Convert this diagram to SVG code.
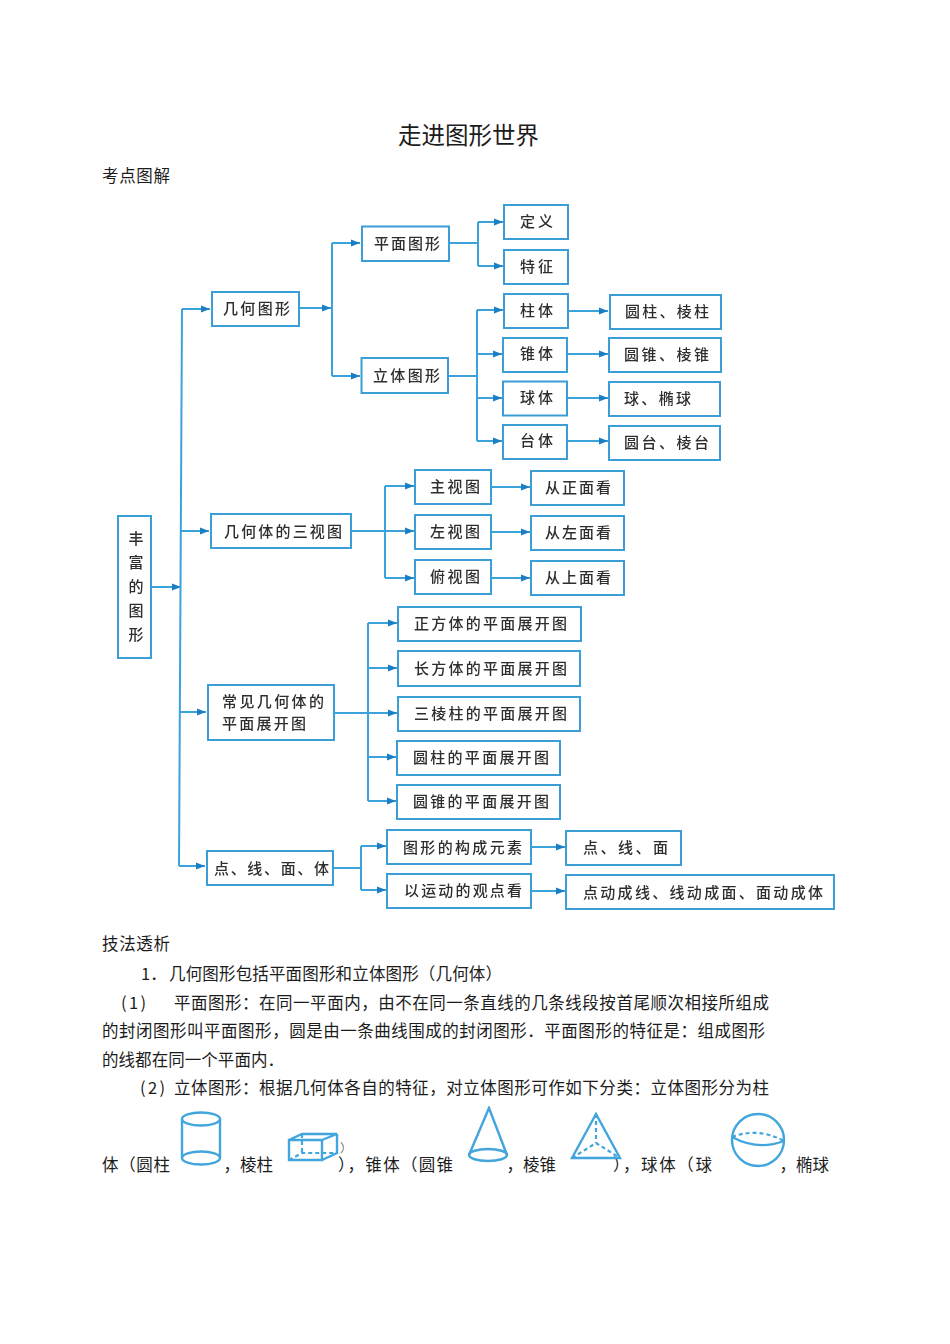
<svg xmlns="http://www.w3.org/2000/svg" width="950" height="1344" viewBox="0 0 950 1344">
<style>
text{font-family:"Noto Sans CJK SC","Noto Sans",sans-serif;fill:#1c1c1c}
.b{font-size:16.5px}
.l{font-size:15px;fill:#2e2e2e;font-weight:500}
.n{fill:#fff;stroke:#3b9fd6;stroke-width:2}
.c{fill:none;stroke:#3ba3dc;stroke-width:2}
.s{fill:none;stroke:#42a5de;stroke-width:2.400}
.d{fill:none;stroke:#42a5de;stroke-width:2.200;stroke-dasharray:4 3}
</style>
<defs>
<marker id="a" markerUnits="userSpaceOnUse" markerWidth="10" markerHeight="9" refX="9" refY="4.500" orient="auto"><path d="M0 1L9 4.500L0 8z" fill="#1b7fc4"/></marker>
<filter id="soft" x="-2%" y="-2%" width="104%" height="104%"><feGaussianBlur stdDeviation="0.55"/></filter>
</defs>
<rect width="950" height="1344" fill="#fff"/>
<g id="page-text">
<text x="398" y="144" font-size="23.5" textLength="141">走进图形世界</text>
<text class="b" x="102" y="182" textLength="68">考点图解</text>
<text class="b" x="102" y="950" textLength="68">技法透析</text>
<text class="b" x="141" y="979.500">1．</text>
<text class="b" x="169" y="979.500" textLength="333">几何图形包括平面图形和立体图形（几何体）</text>
<text class="b" x="121" y="1008.500" textLength="25">(1)</text>
<text class="b" x="174" y="1008.500" textLength="595">平面图形：在同一平面内，由不在同一条直线的几条线段按首尾顺次相接所组成</text>
<text class="b" x="102" y="1036.500" textLength="663">的封闭图形叫平面图形，圆是由一条曲线围成的封闭图形．平面图形的特征是：组成图形</text>
<text class="b" x="102" y="1065.500" textLength="182">的线都在同一个平面内．</text>
<text class="b" x="140" y="1093.500" textLength="25">(2)</text>
<text class="b" x="174" y="1093.500" textLength="595">立体图形：根据几何体各自的特征，对立体图形可作如下分类：立体图形分为柱</text>
<text class="b" x="102" y="1171" textLength="68">体（圆柱</text>
<text class="b" x="223.500" y="1171">，棱柱</text>
<text class="b" x="338" y="1171" textLength="115">），锥体（圆锥</text>
<text class="b" x="506.500" y="1171">，棱锥</text>
<text class="b" x="613" y="1171" textLength="99">），球体（球</text>
<text class="b" x="779.500" y="1171">，椭球</text>
</g>
<g filter="url(#soft)">
<g id="connectors">
<path class="c" marker-end="url(#a)" d="M151 587H181"/>
<path class="c" d="M182 309L179 866"/>
<path class="c" marker-end="url(#a)" d="M182 309H210"/>
<path class="c" marker-end="url(#a)" d="M180.500 531H209"/>
<path class="c" marker-end="url(#a)" d="M179.500 712H206"/>
<path class="c" marker-end="url(#a)" d="M179 866H205"/>
<path class="c" marker-end="url(#a)" d="M299 308H331"/>
<path class="c" d="M332 243V376"/>
<path class="c" marker-end="url(#a)" d="M332 243H360"/>
<path class="c" marker-end="url(#a)" d="M332 376H360"/>
<path class="c" d="M449 243H478M478 222V266"/>
<path class="c" marker-end="url(#a)" d="M478 222H503"/>
<path class="c" marker-end="url(#a)" d="M478 266H503"/>
<path class="c" d="M448 376H477M477 310V441"/>
<path class="c" marker-end="url(#a)" d="M477 310H503"/>
<path class="c" marker-end="url(#a)" d="M477 354H502"/>
<path class="c" marker-end="url(#a)" d="M477 398H502"/>
<path class="c" marker-end="url(#a)" d="M477 441H502"/>
<path class="c" marker-end="url(#a)" d="M568 311H608"/>
<path class="c" marker-end="url(#a)" d="M567 354H608"/>
<path class="c" marker-end="url(#a)" d="M567 398H608"/>
<path class="c" marker-end="url(#a)" d="M567 441H608"/>
<path class="c" marker-end="url(#a)" d="M351 531H414"/>
<path class="c" d="M385 486V578"/>
<path class="c" marker-end="url(#a)" d="M385 486H414"/>
<path class="c" marker-end="url(#a)" d="M385 578H414"/>
<path class="c" marker-end="url(#a)" d="M491 487H530"/>
<path class="c" marker-end="url(#a)" d="M491 532H530"/>
<path class="c" marker-end="url(#a)" d="M491 578H530"/>
<path class="c" marker-end="url(#a)" d="M334 713H397"/>
<path class="c" d="M368 623V801"/>
<path class="c" marker-end="url(#a)" d="M368 623H397"/>
<path class="c" marker-end="url(#a)" d="M368 668H397"/>
<path class="c" marker-end="url(#a)" d="M368 757H396"/>
<path class="c" marker-end="url(#a)" d="M368 801H396"/>
<path class="c" d="M333 868H361M361 846V890"/>
<path class="c" marker-end="url(#a)" d="M361 846H386"/>
<path class="c" marker-end="url(#a)" d="M361 890H386"/>
<path class="c" marker-end="url(#a)" d="M531 847H565"/>
<path class="c" marker-end="url(#a)" d="M531 891H565"/>
</g>
<g id="n-root"><rect class="n" x="118" y="516" width="33" height="142"/>
<text class="l" x="136" y="544" text-anchor="middle">丰</text><text class="l" x="136" y="568" text-anchor="middle">富</text><text class="l" x="136" y="592" text-anchor="middle">的</text><text class="l" x="136" y="616" text-anchor="middle">图</text><text class="l" x="136" y="640" text-anchor="middle">形</text></g>
<g id="n1"><rect class="n" x="212" y="292" width="87" height="34"/><text class="l" x="223" y="314" textLength="67">几何图形</text></g>
<g id="n2"><rect class="n" x="362" y="226.500" width="87" height="34.500"/><text class="l" x="374" y="249" textLength="66">平面图形</text></g>
<g id="n3"><rect class="n" x="361.500" y="358" width="86.500" height="35"/><text class="l" x="373" y="381" textLength="67">立体图形</text></g>
<g id="n4"><rect class="n" x="504" y="205" width="64" height="34"/><text class="l" x="520" y="227" textLength="33">定义</text></g>
<g id="n5"><rect class="n" x="504" y="250" width="64" height="34"/><text class="l" x="520" y="272" textLength="33">特征</text></g>
<g id="n6"><rect class="n" x="504" y="294" width="64" height="34"/><text class="l" x="520" y="316" textLength="33">柱体</text></g>
<g id="n7"><rect class="n" x="503" y="338" width="64" height="34"/><text class="l" x="520" y="359" textLength="33">锥体</text></g>
<g id="n8"><rect class="n" x="503" y="381.500" width="64" height="34"/><text class="l" x="520" y="403" textLength="33">球体</text></g>
<g id="n9"><rect class="n" x="503" y="425" width="64" height="34"/><text class="l" x="520" y="446" textLength="33">台体</text></g>
<g id="n10"><rect class="n" x="610" y="295" width="111" height="34"/><text class="l" x="625" y="317" textLength="84">圆柱、棱柱</text></g>
<g id="n11"><rect class="n" x="609" y="338" width="112" height="34"/><text class="l" x="624" y="360" textLength="85">圆锥、棱锥</text></g>
<g id="n12"><rect class="n" x="609" y="382" width="111" height="34"/><text class="l" x="624" y="404" textLength="67">球、椭球</text></g>
<g id="n13"><rect class="n" x="609" y="426" width="111" height="34"/><text class="l" x="624" y="448" textLength="85">圆台、棱台</text></g>
<g id="n14"><rect class="n" x="211" y="514" width="140" height="34"/><text class="l" x="224" y="537" textLength="118">几何体的三视图</text></g>
<g id="n15"><rect class="n" x="415" y="470" width="76" height="34"/><text class="l" x="430" y="492" textLength="50">主视图</text></g>
<g id="n16"><rect class="n" x="415" y="515" width="76" height="34"/><text class="l" x="430" y="537" textLength="50">左视图</text></g>
<g id="n17"><rect class="n" x="415" y="560" width="76" height="34"/><text class="l" x="430" y="582" textLength="50">俯视图</text></g>
<g id="n18"><rect class="n" x="531" y="471" width="93" height="34"/><text class="l" x="545" y="493" textLength="66">从正面看</text></g>
<g id="n19"><rect class="n" x="531" y="516" width="93" height="34"/><text class="l" x="545" y="538" textLength="66">从左面看</text></g>
<g id="n20"><rect class="n" x="531" y="561" width="93" height="34"/><text class="l" x="545" y="583" textLength="66">从上面看</text></g>
<g id="n21"><rect class="n" x="208" y="685" width="126" height="55"/><text class="l" x="222" y="707" textLength="102">常见几何体的</text><text class="l" x="222" y="729" textLength="84">平面展开图</text></g>
<g id="n22"><rect class="n" x="398" y="607" width="183" height="34"/><text class="l" x="414" y="629" textLength="153">正方体的平面展开图</text></g>
<g id="n23"><rect class="n" x="398" y="651" width="182" height="35"/><text class="l" x="414" y="674" textLength="153">长方体的平面展开图</text></g>
<g id="n24"><rect class="n" x="398" y="697" width="182" height="34"/><text class="l" x="414" y="719" textLength="153">三棱柱的平面展开图</text></g>
<g id="n25"><rect class="n" x="397" y="741" width="163" height="34"/><text class="l" x="413" y="763" textLength="136">圆柱的平面展开图</text></g>
<g id="n26"><rect class="n" x="397" y="785" width="163" height="34"/><text class="l" x="413" y="807" textLength="136">圆锥的平面展开图</text></g>
<g id="n27"><rect class="n" x="207" y="851" width="126" height="34"/><text class="l" x="214" y="874" textLength="115">点、线、面、体</text></g>
<g id="n28"><rect class="n" x="387" y="830" width="144" height="34"/><text class="l" x="403" y="853" textLength="119">图形的构成元素</text></g>
<g id="n29"><rect class="n" x="387" y="874" width="144" height="34"/><text class="l" x="404" y="896" textLength="118">以运动的观点看</text></g>
<g id="n30"><rect class="n" x="566" y="831" width="115" height="34"/><text class="l" x="583" y="853" textLength="85">点、线、面</text></g>
<g id="n31"><rect class="n" x="566" y="875" width="268" height="34"/><text class="l" x="583" y="898" textLength="240">点动成线、线动成面、面动成体</text></g>
</g>
<g id="solids" filter="url(#soft)">
<g id="cylinder"><ellipse class="s" cx="201" cy="1119" rx="19" ry="6.500"/><ellipse class="s" cx="201" cy="1158" rx="19" ry="6.500"/><path class="s" d="M182 1119V1158M220 1119V1158"/></g>
<g id="cuboid"><path class="s" d="M289 1140H322V1160H289zM289 1140L302 1134H337L322 1140M337 1134V1153L322 1160"/><path class="d" d="M302 1134V1153M289 1160L302 1153H337"/><path d="M341 1142Q346 1148 341 1153" fill="none" stroke="#999" stroke-width="1.200"/></g>
<g id="cone"><path class="s" d="M469 1155L489 1108L507 1155"/><ellipse class="s" cx="488" cy="1155" rx="19" ry="6"/></g>
<g id="pyramid"><path class="s" d="M596 1114L572 1158H620z"/><path class="d" d="M596 1114V1143M572 1158L596 1143L620 1158"/></g>
<g id="sphere"><circle class="s" cx="758" cy="1140" r="26"/><path class="s" d="M732 1137Q758 1151 784 1141"/><path class="d" d="M732 1137Q758 1127 784 1141"/></g>
</g>
</svg>
